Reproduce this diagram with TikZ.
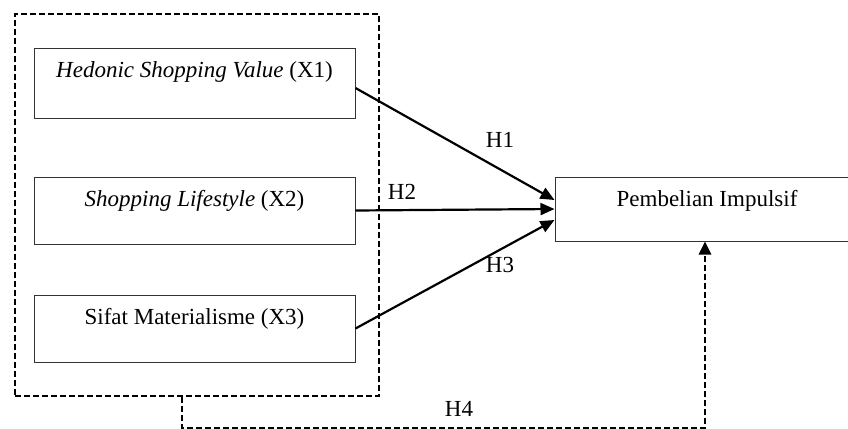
\documentclass[tikz,border=0pt]{standalone}
\usepackage{fontspec}
\setmainfont{Liberation Serif}
\usetikzlibrary{arrows.meta}
\tikzset{
  varbox/.style={draw=black!80,line width=0.5pt,minimum width=160.5pt,inner xsep=0pt,inner ysep=0pt,text height=14.5pt,text depth=19pt,anchor=base},
  hyparrow/.style={line width=1.1pt,-{Triangle[length=7pt,width=6pt]}},
  dashline/.style={line width=1.4pt,dash pattern=on 3pt off 1.5pt},
}
\begin{document}
\begin{tikzpicture}[x=0.5pt,y=-0.5pt,font=\fontsize{11.5}{14}\selectfont]
        \useasboundingbox (0,0) rectangle (848,429);
        %% independent variables
        \node[dashline,draw,minimum width=182pt,minimum height=191pt,inner sep=0pt] (grp) at (197,205) {};
        \node[varbox,text depth=20.5pt] (x1) at (194.5,77) {\textit{Hedonic Shopping Value} (X1)};
        \node[varbox] (x2) at (194.5,206) {\textit{Shopping Lifestyle} (X2)};
        \node[varbox] (x3) at (194.5,324) {Sifat Materialisme (X3)};
        %% dependent variable
        \node[varbox,minimum width=168pt,text depth=17.5pt,xshift=8pt] (pi) at (707,206) {Pembelian Impulsif\hspace*{16pt}};
        %% hypotheses
        \draw[hyparrow] ([yshift=-2.5pt]x1.east) -- ([yshift=4.5pt]pi.west);
        \draw[hyparrow] (x2.east) -- (pi.west);
        \draw[hyparrow] (x3.east) -- ([yshift=-5.5pt]pi.west);
        \draw[dashline,-{Triangle[length=6.5pt,width=6pt]}] ([xshift=-7.5pt]grp.south) -- ++(0,31) -| ([xshift=-9pt]pi.south);
        \node (h1) at (500,140) {H1};
        \node (h2) at (402,192) {H2};
        \node (h3) at (500,265) {H3};
        \node (h4) at (459,409) {H4};
    \end{tikzpicture}
\end{document}
